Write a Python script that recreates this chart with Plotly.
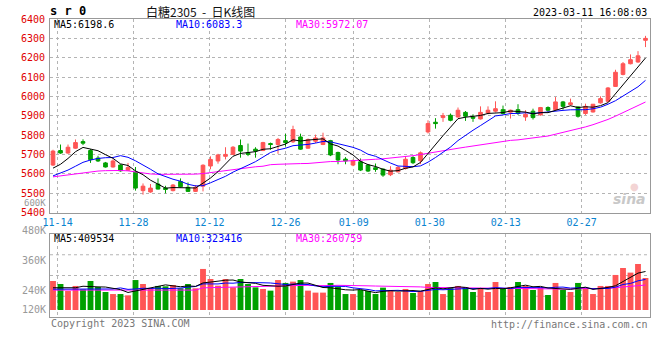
import plotly.graph_objects as go

# ---------------- data ----------------
dates = ["11-11", "11-14", "11-15", "11-16", "11-17", "11-18", "11-21", "11-22", "11-23", "11-24",
         "11-25", "11-28", "11-29", "11-30", "12-01", "12-02", "12-05", "12-06", "12-07", "12-08",
         "12-09", "12-12", "12-13", "12-14", "12-15", "12-16", "12-19", "12-20", "12-21", "12-22",
         "12-23", "12-26", "12-27", "12-28", "12-29", "12-30", "01-03", "01-04", "01-05", "01-06",
         "01-09", "01-10", "01-11", "01-12", "01-13", "01-16", "01-17", "01-18", "01-19", "01-20",
         "01-30", "01-31", "02-01", "02-02", "02-03", "02-06", "02-07", "02-08", "02-09", "02-10",
         "02-13", "02-14", "02-15", "02-16", "02-17", "02-20", "02-21", "02-22", "02-23", "02-24",
         "02-27", "02-28", "03-01", "03-02", "03-03", "03-06", "03-07", "03-08", "03-09", "03-10"]

opens = [5646, 5721, 5708, 5733, 5767, 5721, 5682, 5657, 5636, 5646,
         5619, 5609, 5514, 5507, 5548, 5527, 5514, 5561, 5531, 5510,
         5537, 5641, 5667, 5691, 5701, 5747, 5709, 5728, 5721, 5757,
         5752, 5772, 5766, 5791, 5733, 5769, 5752, 5772, 5711, 5677,
         5646, 5663, 5646, 5632, 5625, 5596, 5611, 5628, 5685, 5668,
         5817, 5867, 5891, 5903, 5894, 5918, 5894, 5884, 5915, 5924,
         5932, 5919, 5932, 5894, 5924, 5905, 5943, 5932, 5972, 5958,
         5946, 5912, 5920, 5967, 5975, 6052, 6114, 6169, 6178, 6290]
highs = [5725, 5752, 5752, 5778, 5779, 5728, 5694, 5662, 5675, 5650,
         5657, 5636, 5551, 5548, 5577, 5539, 5548, 5577, 5556, 5543,
         5650, 5691, 5704, 5738, 5744, 5778, 5757, 5738, 5766, 5762,
         5786, 5807, 5849, 5808, 5783, 5803, 5813, 5776, 5715, 5687,
         5675, 5680, 5651, 5654, 5628, 5640, 5640, 5692, 5692, 5716,
         5877, 5888, 5915, 5912, 5943, 5925, 5908, 5949, 5949, 5975,
         5953, 5932, 5960, 5929, 5937, 5946, 5949, 5997, 5977, 5989,
         5949, 5963, 5960, 6001, 6049, 6138, 6178, 6217, 6234, 6313]
lows = [5641, 5704, 5704, 5730, 5749, 5657, 5662, 5633, 5633, 5612,
        5616, 5514, 5493, 5503, 5520, 5500, 5510, 5531, 5507, 5507,
        5510, 5624, 5653, 5675, 5698, 5684, 5692, 5684, 5718, 5725,
        5704, 5742, 5760, 5725, 5730, 5760, 5749, 5692, 5650, 5650,
        5640, 5615, 5610, 5611, 5585, 5589, 5608, 5623, 5651, 5651,
        5809, 5834, 5869, 5872, 5891, 5874, 5869, 5881, 5908, 5918,
        5908, 5886, 5905, 5874, 5881, 5901, 5920, 5929, 5932, 5953,
        5891, 5905, 5917, 5963, 5972, 6049, 6109, 6166, 6174, 6255]
closes = [5718, 5708, 5738, 5762, 5759, 5674, 5667, 5636, 5667, 5616,
          5633, 5527, 5537, 5527, 5522, 5520, 5543, 5534, 5510, 5531,
          5645, 5675, 5698, 5701, 5738, 5718, 5701, 5718, 5762, 5752,
          5778, 5762, 5829, 5728, 5778, 5786, 5786, 5698, 5672, 5667,
          5668, 5620, 5615, 5623, 5594, 5620, 5634, 5676, 5658, 5709,
          5860, 5860, 5901, 5877, 5929, 5898, 5888, 5918, 5929, 5937,
          5912, 5929, 5912, 5908, 5891, 5943, 5929, 5972, 5949, 5967,
          5898, 5949, 5960, 5989, 6044, 6125, 6169, 6190, 6210, 6300]
volumes = [309000, 277000, 202000, 256000, 220000, 309000, 245000, 192000, 170000, 170000,
           156000, 319000, 277000, 234000, 256000, 252000, 266000, 231000, 277000, 231000,
           437000, 330000, 259000, 330000, 241000, 330000, 277000, 241000, 224000, 206000,
           319000, 288000, 302000, 319000, 206000, 185000, 185000, 288000, 248000, 170000,
           170000, 213000, 202000, 170000, 238000, 202000, 192000, 224000, 181000, 202000,
           277000, 298000, 170000, 234000, 256000, 245000, 192000, 224000, 192000, 298000,
           224000, 245000, 298000, 256000, 213000, 245000, 160000, 288000, 213000, 192000,
           288000, 234000, 170000, 256000, 256000, 373000, 447000, 398000, 490000, 341000]

# moving-average values at the start of the window (earlier history not shown)
ma5_head = [5630, 5650, 5680, 5715]
ma10_head = [5590, 5605, 5620, 5640, 5660, 5672, 5680, 5684, 5685]
ma30_head = [5585, 5590, 5596, 5602, 5608, 5612, 5615, 5617, 5618, 5618,
             5616, 5610, 5604, 5600, 5598, 5598, 5598, 5598, 5598, 5599,
             5602, 5607, 5613, 5620, 5625, 5629, 5633, 5637, 5640]
vma5_head = [237000, 237000, 237000, 237000]
vma10_head = [222000, 222000, 222000, 224000, 224000, 226000, 226000, 226000, 224000]
vma30_head = [212000] * 20 + [236000, 238000, 240000, 242000, 244000, 246000, 248000, 250000, 252000]

tick_labels = ["11-14", "11-28", "12-12", "12-26", "01-09", "01-30", "02-13", "02-27"]
price_ticks = list(range(5400, 6401, 100))
vol_labels = ["600K", "480K", "360K", "240K", "120K"]
price_ma_text = ["MA5:6198.6", "MA10:6083.3", "MA30:5972.07"]
vol_ma_text = ["MA5:409534", "MA10:323416", "MA30:260759"]
title_code = "s r 0"
title_name = "白糖2305  -  日K线图"
stamp = "2023-03-11 16:08:03"


def moving_avg(values, n, head):
    out = list(head)
    for i in range(len(head), len(values)):
        out.append(sum(values[i - n + 1:i + 1]) / n)
    return out


ma5 = moving_avg(closes, 5, ma5_head)
ma10 = moving_avg(closes, 10, ma10_head)
ma30 = moving_avg(closes, 30, ma30_head)
vma5 = moving_avg(volumes, 5, vma5_head)
vma10 = moving_avg(volumes, 10, vma10_head)
vma30 = moving_avg(volumes, 30, vma30_head)

# ---------------- styling ----------------
RED = "#ff5555"
GREEN = "#00a000"
GRID = "#b4b4b4"
FRAME = "#999999"
MONO = "DejaVu Sans Mono"
N = len(dates)
xs = list(range(N))
bar_colors = [RED if c >= o else GREEN for o, c in zip(opens, closes)]
# date-label gridlines are spaced on a slightly wider step than the candles
tickvals = [dates.index(t) * N / (N - 1) - 0.4 for t in tick_labels]

L, R, T, B = 50, 10, 19, 43
W, H = 660, 360
PH = H - T - B


def px(xp, yp):
    return (xp - L) / (W - L - R), (H - B - yp) / PH


fig = go.Figure()
fig.add_trace(go.Candlestick(
    x=xs, open=opens, high=highs, low=lows, close=closes,
    increasing=dict(line=dict(color=RED, width=1), fillcolor=RED),
    decreasing=dict(line=dict(color=GREEN, width=1), fillcolor=GREEN),
    whiskerwidth=0, xaxis="x", yaxis="y", hoverinfo="skip", showlegend=False))
for vals, col in [(ma30, "#ff00ff"), (ma10, "#0000ff"), (ma5, "#000000")]:
    fig.add_trace(go.Scatter(x=xs, y=vals, mode="lines", line=dict(color=col, width=1),
                             xaxis="x", yaxis="y", hoverinfo="skip", showlegend=False))

fig.add_trace(go.Bar(x=xs, y=volumes, marker=dict(color=bar_colors, line=dict(width=0)),
                     xaxis="x2", yaxis="y2", hoverinfo="skip", showlegend=False))
for vals, col in [(vma30, "#ff00ff"), (vma10, "#0000ff"), (vma5, "#000000")]:
    fig.add_trace(go.Scatter(x=xs, y=vals, mode="lines", line=dict(color=col, width=1),
                             xaxis="x2", yaxis="y2", hoverinfo="skip", showlegend=False))

price_bottom = (H - B - 212.7) / PH
vol_top = (H - B - 234) / PH
vol_zero_px = 310
vol_per_px = 10646
vol_range = [-(H - B - vol_zero_px) * vol_per_px, (vol_zero_px - 234) * vol_per_px]

axis_common = dict(showline=True, linecolor=FRAME, linewidth=1, mirror=True, zeroline=False,
                   showgrid=True, gridcolor=GRID, griddash="dot", gridwidth=1)

fig.update_layout(
    width=W, height=H, margin=dict(l=L, r=R, t=T, b=B, autoexpand=False),
    paper_bgcolor="white", plot_bgcolor="white",
    boxgap=0.3, bargap=0.22, showlegend=False,
    xaxis=dict(domain=[0, 1], range=[-0.4, N - 0.4], anchor="y", tickmode="array",
               tickvals=tickvals, ticktext=tick_labels, ticks="", rangeslider=dict(visible=False),
               tickfont=dict(family=MONO, size=10, color="#0a84d0"), **axis_common),
    yaxis=dict(domain=[price_bottom, 1], range=[5400, 6400], anchor="x", tickmode="array",
               tickvals=price_ticks, ticks="", ticklabelstandoff=2,
               tickfont=dict(family=MONO, size=10, color="#e00000"), **axis_common),
    xaxis2=dict(domain=[0, 1], range=[-0.4, N - 0.4], anchor="y2", matches="x", tickmode="array",
                tickvals=tickvals, showticklabels=False, ticks="", **axis_common),
    yaxis2=dict(domain=[0, vol_top], range=vol_range, anchor="x2", showticklabels=False,
                ticks="", showline=True, linecolor=FRAME, linewidth=1, mirror=True,
                zeroline=False, showgrid=False),
)

# horizontal dotted gridlines inside the volume panel
for f in [0.25, 0.5, 0.75]:
    fig.add_shape(type="line", xref="x2 domain", yref="y2 domain", x0=0, x1=1, y0=f, y1=f,
                  line=dict(color=GRID, width=1, dash="dot"), layer="below")

ann = []


def text(t, xp, yp, color="#000", size=10, family=MONO, xanchor="left", **kw):
    x, y = px(xp, yp)
    ann.append(dict(text=t, x=x, y=y, xref="paper", yref="paper", showarrow=False,
                    xanchor=xanchor, yanchor="middle", font=dict(family=family, size=size, color=color), **kw))


text("<b>" + title_code + "</b>", 48, 11, size=12)
text(title_name, 200, 11, size=12, family="Noto Sans CJK SC", color="#111", xanchor="center")
text(stamp, 649, 12, xanchor="right")
for t, xp, col in zip(price_ma_text, [52, 174, 294], ["#000000", "#0000ff", "#ff00ff"]):
    text(t, xp, 24.5, color=col)
for t, xp, col in zip(vol_ma_text, [52, 174, 294], ["#000000", "#0000ff", "#ff00ff"]):
    text(t, xp, 238.5, color=col)
for t, yp, sz in zip(vol_labels, [203.0, 230.7, 260.7, 290, 309.3], [9, 10, 10, 10, 10]):
    text(t, 46.5, yp, color="#999999", xanchor="right", size=sz, borderpad=0)
text("Copyright 2023 SINA.COM", 49, 323.5, color="#777777")
text("http://finance.sina.com.cn", 650, 324, color="#777777", xanchor="right")
text("<b><i>sina</i></b>", 648, 199, color="#c8c8c8", size=14, family="DejaVu Sans", xanchor="right")
text("●", 634, 186, color="#f3d4d4", size=10, family="DejaVu Sans", xanchor="center")
fig.update_layout(annotations=ann)

fig.write_html("out.html", config={"displayModeBar": False},
               post_script="document.body.style.margin='0';document.body.style.padding='0';")
